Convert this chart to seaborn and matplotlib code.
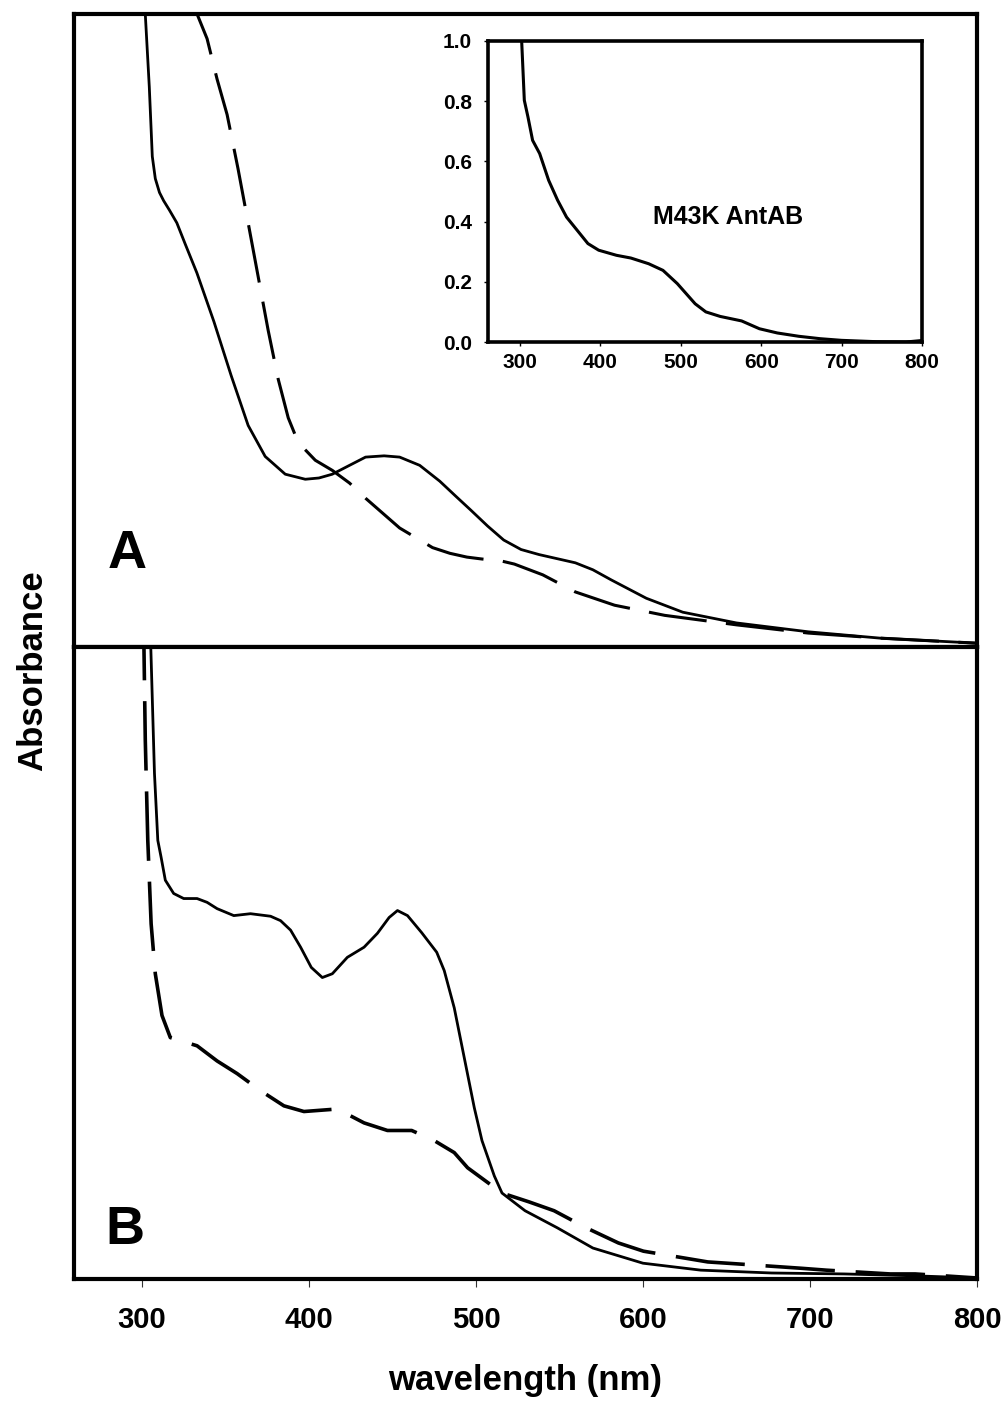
import matplotlib
matplotlib.use("Agg")
import matplotlib.pyplot as plt
import seaborn as sns

# spectra (wavelength in nm, absorbance in panel units)
a_solid_nm = [300, 302, 304.4, 306.2, 308, 310.5, 313, 316.5, 320.9, 326, 332.9, 343.1, 353.4,
              363.6, 373.8, 385.8, 397.8, 406, 414, 424.3, 433.9, 445, 454.3, 466.3, 478.3,
              488, 497, 507, 516.6, 527, 537.8, 559.5, 570, 581, 602, 623.8, 656, 699, 742, 800]
a_solid_abs = [1.40, 1.0, 0.885, 0.775, 0.740, 0.718, 0.705, 0.690, 0.670, 0.636, 0.591, 0.514,
               0.429, 0.350, 0.301, 0.273, 0.265, 0.267, 0.273, 0.287, 0.300, 0.302, 0.300,
               0.287, 0.262, 0.238, 0.216, 0.191, 0.169, 0.154, 0.146, 0.133, 0.122, 0.106,
               0.077, 0.055, 0.038, 0.024, 0.014, 0.006]

a_dash_nm = [320, 327, 333, 339, 345, 351, 357.5, 363.6, 369.6, 375.6, 381.6, 387.6, 393.6,
             403.8, 414, 424.3, 433.9, 454.3, 474, 484.4, 494.6, 503.6, 515, 523, 540,
             559.5, 583, 613, 656, 699, 742, 800]
a_dash_abs = [1.12, 1.06, 1.0, 0.961, 0.897, 0.841, 0.756, 0.670, 0.585, 0.500, 0.423, 0.362,
              0.323, 0.295, 0.279, 0.259, 0.235, 0.188, 0.157, 0.148, 0.142, 0.139, 0.136,
              0.131, 0.114, 0.087, 0.066, 0.050, 0.035, 0.022, 0.014, 0.006]

b_solid_nm = [304, 305.3, 307.5, 309.5, 311.5, 314, 319, 325, 333, 339, 345, 355, 365, 377,
              383, 389, 395, 401.4, 408, 414, 423, 433, 441, 448, 453, 459, 467.5, 476.5,
              481, 487, 493, 499, 503.6, 511, 515.6, 529.4, 548.7, 570, 600, 634.6, 677,
              720.5, 763, 800]
b_solid_abs = [1.2, 1.0, 0.80, 0.694, 0.667, 0.631, 0.610, 0.602, 0.602, 0.596, 0.586, 0.575,
               0.578, 0.574, 0.567, 0.552, 0.525, 0.493, 0.477, 0.483, 0.509, 0.525, 0.547,
               0.572, 0.583, 0.575, 0.548, 0.517, 0.488, 0.429, 0.350, 0.271, 0.219, 0.163,
               0.136, 0.108, 0.081, 0.049, 0.025, 0.014, 0.0095, 0.008, 0.005, 0.0016]

b_dash_nm = [300.5, 301.2, 302, 303.5, 305.5, 308, 312, 317, 333, 345, 357, 371, 385, 397,
             417, 433, 447, 461.5, 475, 487, 495, 515.6, 531.8, 546.8, 566, 585.3, 600.3,
             638.8, 656, 694.7, 709.7, 748, 763, 800]
b_dash_abs = [1.2, 1.0, 0.853, 0.694, 0.562, 0.483, 0.417, 0.382, 0.369, 0.345, 0.325, 0.298,
              0.274, 0.265, 0.269, 0.247, 0.235, 0.235, 0.219, 0.200, 0.176, 0.136, 0.122,
              0.108, 0.081, 0.057, 0.044, 0.027, 0.024, 0.017, 0.014, 0.008, 0.008, 0.0016]

# inset: M43K AntAB
m43k_nm = [302, 305.3, 309.8, 315.6, 324.4, 335.6, 346.7, 357.8, 371.1, 384.4, 397.8, 420,
           437.8, 460, 477.8, 495.6, 517.8, 531.1, 548.9, 575.6, 597.8, 620, 646.7, 673.3,
           700, 744, 780, 800]
m43k_abs = [1.0, 0.803, 0.748, 0.670, 0.626, 0.537, 0.471, 0.415, 0.371, 0.327, 0.305, 0.288,
            0.279, 0.260, 0.238, 0.194, 0.127, 0.100, 0.085, 0.070, 0.044, 0.030, 0.019, 0.011,
            0.0055, 0.001, 0.0, 0.005]

x_ticks = [300, 400, 500, 600, 700, 800]
inset_yticks = [0.0, 0.2, 0.4, 0.6, 0.8, 1.0]

sns.set_style("white")
plt.rcParams["font.family"] = ["Liberation Sans", "DejaVu Sans"]
plt.rcParams["font.weight"] = "bold"
plt.rcParams["text.color"] = "black"
plt.rcParams["xtick.color"] = "black"
plt.rcParams["ytick.color"] = "black"
plt.rcParams["lines.scale_dashes"] = False
plt.rcParams["lines.solid_joinstyle"] = "round"
plt.rcParams["lines.dash_joinstyle"] = "round"

fig = plt.figure(figsize=(10.06, 14.04), dpi=100)
L, W = 74.3 / 1006, (977 - 74.3) / 1006
ax_a = fig.add_axes([L, 1 - 647 / 1404, W, (647 - 14) / 1404])
ax_b = fig.add_axes([L, 1 - 1279 / 1404, W, (1279 - 647) / 1404])
ax_in = fig.add_axes([487.5 / 1006, 1 - 342 / 1404, (922 - 487.5) / 1006, (342 - 41) / 1404])

dash_a = (0, (42, 14))
dash_b = (0, (50, 15))

sns.lineplot(x=a_solid_nm, y=a_solid_abs, ax=ax_a, color="black", linewidth=2.0)
sns.lineplot(x=a_dash_nm, y=a_dash_abs, ax=ax_a, color="black", linewidth=2.2, linestyle=dash_a)
sns.lineplot(x=b_solid_nm, y=b_solid_abs, ax=ax_b, color="black", linewidth=2.0)
sns.lineplot(x=b_dash_nm, y=b_dash_abs, ax=ax_b, color="black", linewidth=2.6, linestyle=dash_b)
sns.lineplot(x=m43k_nm, y=m43k_abs, ax=ax_in, color="black", linewidth=2.2)

for ax in (ax_a, ax_b):
    ax.set_xlim(259.5, 800)
    ax.set_ylim(0, 1)
    ax.set_yticks([])
    ax.set_xlabel("")
    ax.set_ylabel("")
    for s in ax.spines.values():
        s.set_linewidth(3.0)
        s.set_color("black")
        s.set_visible(True)

ax_a.set_xticks([])
ax_b.set_xticks(x_ticks)
ax_b.set_xticklabels([str(t) for t in x_ticks], fontsize=21, fontweight="bold")
ax_b.tick_params(axis="x", direction="out", length=5.8, width=0.8, color="#333333",
                 pad=14, bottom=True)

ax_a.text(0.0587, 0.125, "A", transform=ax_a.transAxes, fontsize=39, fontweight="bold",
          ha="center", va="baseline")
ax_b.text(0.0565, 0.055, "B", transform=ax_b.transAxes, fontsize=39, fontweight="bold",
          ha="center", va="baseline")

ax_in.set_xlim(259.5, 800)
ax_in.set_ylim(0, 1)
ax_in.set_xticks(x_ticks)
ax_in.set_xticklabels([str(t) for t in x_ticks], fontsize=15, fontweight="bold")
ax_in.set_yticks(inset_yticks)
ax_in.set_yticklabels([f"{v:.1f}" for v in inset_yticks], fontsize=15, fontweight="bold")
ax_in.tick_params(direction="out", length=3, width=1, color="black", left=True, bottom=True)
ax_in.tick_params(axis="x", pad=5)
ax_in.tick_params(axis="y", pad=8)
ax_in.set_xlabel("")
ax_in.set_ylabel("")
for s in ax_in.spines.values():
    s.set_linewidth(2.6)
    s.set_color("black")
ax_in.text(559, 0.415, "M43K AntAB", fontsize=18, fontweight="bold", ha="center", va="center")

fig.text(42 / 1006, 1 - 670.5 / 1404, "Absorbance", rotation=90, rotation_mode="anchor",
         ha="center", va="baseline", fontsize=25, fontweight="bold")
fig.text(525.5 / 1006, 1 - 1390 / 1404, "wavelength (nm)", ha="center", va="baseline",
         fontsize=25, fontweight="bold")

fig.savefig("out.png", dpi=100, facecolor="white")
